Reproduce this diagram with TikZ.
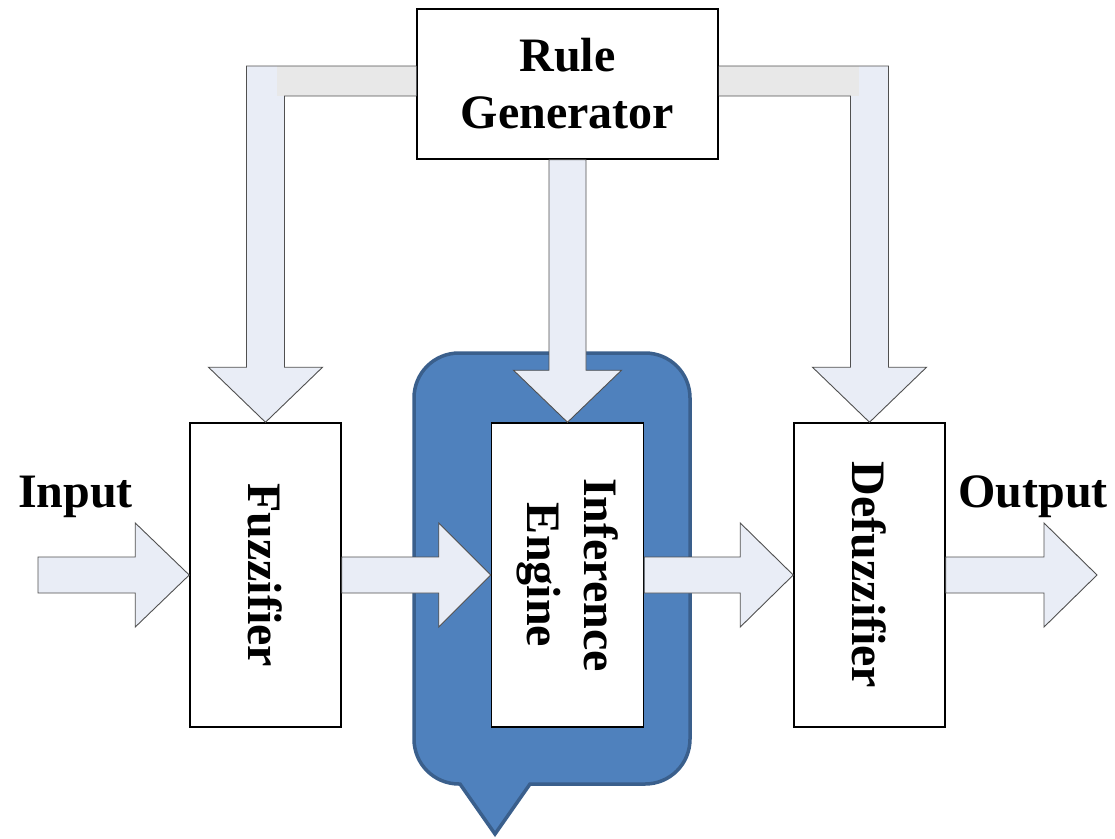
\documentclass[tikz,border=0pt]{standalone}
\usepackage{fontspec}
\setmainfont{Liberation Serif}
\usetikzlibrary{calc}

\definecolor{arrowfill}{HTML}{E9EDF6}
\definecolor{bandfill}{HTML}{E8E8E8}
\definecolor{arrowline}{HTML}{505050}
\definecolor{calloutfill}{HTML}{4F81BD}
\definecolor{calloutline}{HTML}{3A5F8C}

\tikzset{
  stagebox/.style={draw=black, line width=1.5pt, fill=white, inner sep=0pt,
    align=center, font=\bfseries\fontsize{48}{57}\selectfont},
  lbl/.style={inner sep=0pt, font=\bfseries\fontsize{48}{57}\selectfont},
  barrow/.style={fill=arrowfill, draw=arrowline, line width=0.9pt, line join=miter},
  bline/.style={draw=arrowline, line width=0.9pt, line join=miter},
}

% horizontal block arrow: start, tip, shaft half width, head half width, head length
\newcommand\hblock[5]{%
  \draw[barrow] let \p1=(#1), \p2=(#2) in
    (\x1,\y2+#3) -- (\x2-#5,\y2+#3) -- (\x2-#5,\y2+#4) -- (\x2,\y2)
    -- (\x2-#5,\y2-#4) -- (\x2-#5,\y2-#3) -- (\x1,\y2-#3) -- cycle;}
% downward block arrow: start, tip, shaft half width, head half width, head length
\newcommand\vblock[5]{%
  \draw[barrow] let \p1=(#1), \p2=(#2) in
    (\x2-#3,\y1) -- (\x2-#3,\y2+#5) -- (\x2-#4,\y2+#5) -- (\x2,\y2)
    -- (\x2+#4,\y2+#5) -- (\x2+#3,\y2+#5) -- (\x2+#3,\y1) -- cycle;}

\begin{document}
\begin{tikzpicture}[x=1pt, y=-1pt]
  \useasboundingbox[fill=white] (0,0) rectangle (1115,838);

  % speech-bubble callout behind the inference engine
  \draw[fill=calloutfill, draw=calloutline, line width=3.5pt, line join=miter]
    (460,784) -- (495,834) -- (530,784) -- (645,784)
    .. controls (670,784) and (690,764) .. (690,739) -- (690,398)
    .. controls (690,373) and (670,353) .. (645,353) -- (459,353)
    .. controls (434,353) and (414,373) .. (414,398) -- (414,739)
    .. controls (414,764) and (434,784) .. (459,784) -- cycle;

  % stages
  \node[stagebox, minimum width=301pt, minimum height=150pt] (rule) at (567.5,84) {Rule\\Generator};
  \node[stagebox, minimum width=151pt, minimum height=304pt] (fuzz) at (265.5,575)
    {\rotatebox[origin=c]{-90}{Fuzzifier}};
  \node[stagebox, minimum width=152pt, minimum height=304pt] (inf) at (567.5,575)
    {\rotatebox[origin=c]{-90}{\begin{tabular}{@{}c@{}}Inference\\Engine\end{tabular}}};
  \node[stagebox, minimum width=151pt, minimum height=304pt] (defuzz) at (869.5,575)
    {\rotatebox[origin=c]{-90}{Defuzzifier}};

  % signal labels
  \node[lbl, anchor=base] (inlbl) at (75.5,507) {Input};
  \node[lbl, anchor=base] (outlbl) at (1033,507) {Output};

  \coordinate (inStart) at (38,575);
  \coordinate (outEnd) at (1097,575);
  \coordinate (lbend) at (265.5,81);
  \coordinate (rbend) at (869.5,81);

  % main signal path
  \hblock{inStart}{fuzz.west}{18pt}{52pt}{54pt}
  \hblock{fuzz.east}{inf.west}{18pt}{52pt}{52pt}
  \hblock{inf.east}{defuzz.west}{18pt}{52pt}{53pt}
  \hblock{defuzz.east}{outEnd}{18pt}{52pt}{53pt}

  % rule generator feeding the inference engine
  \vblock{rule.south}{inf.north}{18.5pt}{54pt}{52pt}

  % rule generator feeding the fuzzifier
  \fill[arrowfill] let \p1=(rule.west), \p2=(fuzz.north), \p3=(lbend) in
    (\x1,\y3+15pt) -- (\x2-19pt,\y3+15pt) -- (\x2-19pt,\y2+55pt) -- (\x2-57pt,\y2+55pt)
    -- (\x2,\y2) -- (\x2+57pt,\y2+55pt) -- (\x2+19pt,\y2+55pt) -- (\x2+19pt,\y3-15pt)
    -- (\x1,\y3-15pt) -- cycle;
  \fill[bandfill] let \p1=(rule.west), \p2=(fuzz.north), \p3=(lbend) in
    (\x2+11pt,\y3+15pt) rectangle (\x1,\y3-15pt);
  \draw[bline] let \p1=(rule.west), \p2=(fuzz.north), \p3=(lbend) in
    (\x1,\y3+15pt) -- (\x2-19pt,\y3+15pt) -- (\x2-19pt,\y2+55pt) -- (\x2-57pt,\y2+55pt)
    -- (\x2,\y2) -- (\x2+57pt,\y2+55pt) -- (\x2+19pt,\y2+55pt) -- (\x2+19pt,\y3-15pt)
    -- (\x1,\y3-15pt);

  % rule generator feeding the defuzzifier
  \fill[arrowfill] let \p1=(rule.east), \p2=(defuzz.north), \p3=(rbend) in
    (\x1,\y3+15pt) -- (\x2+19pt,\y3+15pt) -- (\x2+19pt,\y2+55pt) -- (\x2+57pt,\y2+55pt)
    -- (\x2,\y2) -- (\x2-57pt,\y2+55pt) -- (\x2-19pt,\y2+55pt) -- (\x2-19pt,\y3-15pt)
    -- (\x1,\y3-15pt) -- cycle;
  \fill[bandfill] let \p1=(rule.east), \p2=(defuzz.north), \p3=(rbend) in
    (\x2-11pt,\y3+15pt) rectangle (\x1,\y3-15pt);
  \draw[bline] let \p1=(rule.east), \p2=(defuzz.north), \p3=(rbend) in
    (\x1,\y3+15pt) -- (\x2+19pt,\y3+15pt) -- (\x2+19pt,\y2+55pt) -- (\x2+57pt,\y2+55pt)
    -- (\x2,\y2) -- (\x2-57pt,\y2+55pt) -- (\x2-19pt,\y2+55pt) -- (\x2-19pt,\y3-15pt)
    -- (\x1,\y3-15pt);
\end{tikzpicture}
\end{document}
